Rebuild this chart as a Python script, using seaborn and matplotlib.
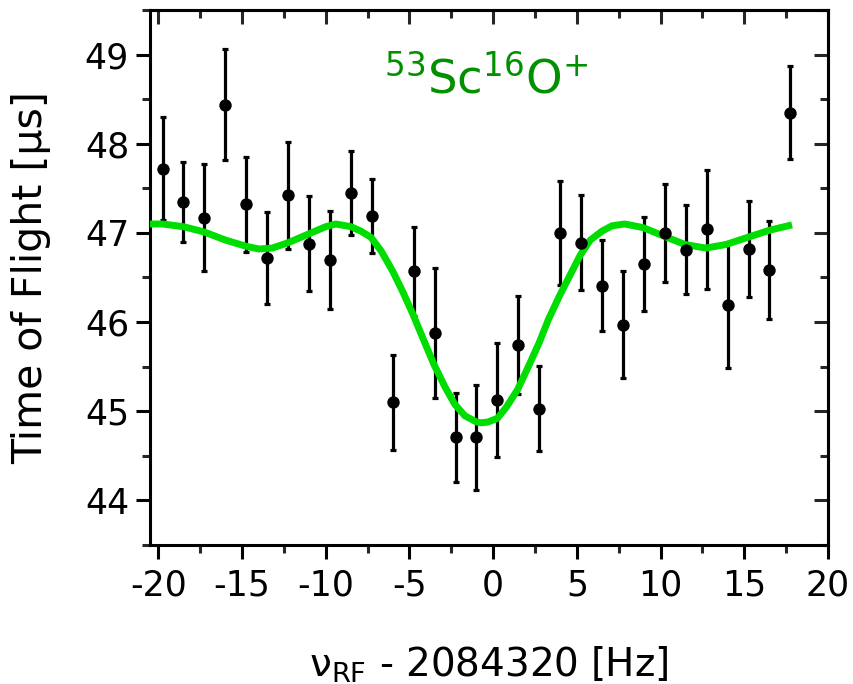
import numpy as np
import pandas as pd
import matplotlib
matplotlib.use("Agg")
import matplotlib.pyplot as plt
import seaborn as sns
from matplotlib.ticker import MultipleLocator

# ---- data ----
freq = [-19.75, -18.5, -17.25, -16.0, -14.75, -13.5, -12.25, -11.0, -9.75, -8.5,
        -7.25, -6.0, -4.75, -3.5, -2.25, -1.0, 0.25, 1.5, 2.75, 4.0,
        5.25, 6.5, 7.75, 9.0, 10.25, 11.5, 12.75, 14.0, 15.25, 16.5, 17.75]
tof = [47.72, 47.35, 47.17, 48.44, 47.32, 46.72, 47.42, 46.88, 46.70, 47.45,
       47.19, 45.10, 46.57, 45.88, 44.71, 44.71, 45.13, 45.74, 45.03, 47.00,
       46.89, 46.41, 45.97, 46.65, 47.00, 46.81, 47.04, 46.19, 46.82, 46.58, 48.35]
tof_err = [0.58, 0.45, 0.60, 0.62, 0.53, 0.52, 0.60, 0.53, 0.55, 0.47,
           0.42, 0.53, 0.50, 0.73, 0.50, 0.59, 0.64, 0.55, 0.48, 0.58,
           0.53, 0.51, 0.60, 0.53, 0.55, 0.50, 0.67, 0.70, 0.54, 0.55, 0.52]

# fitted curve
fit_freq = [-20.5, -19.75, -18.5, -17.25, -16.0, -14.75, -14.0, -13.2, -12.25, -11.0,
            -10.0, -9.4, -8.5, -7.9, -7.3, -6.7, -6.0, -5.4, -4.8, -4.2,
            -3.55, -2.9, -2.3, -1.7, -1.0, -0.7, -0.3, 0.25, 0.8, 1.45,
            2.1, 2.75, 3.3, 3.95, 4.6, 5.2, 5.8, 6.5, 7.1, 7.85,
            8.95, 10.25, 11.45, 12.7, 13.9, 15.2, 16.5, 17.85]
fit_tof = [47.10, 47.10, 47.07, 47.01, 46.92, 46.85, 46.82, 46.83, 46.89, 46.99,
           47.07, 47.10, 47.07, 47.02, 46.95, 46.80, 46.57, 46.34, 46.09, 45.82,
           45.53, 45.28, 45.08, 44.95, 44.88, 44.87, 44.88, 44.92, 45.05, 45.24,
           45.50, 45.77, 46.03, 46.29, 46.53, 46.75, 46.92, 47.02, 47.08, 47.10,
           47.06, 46.96, 46.87, 46.83, 46.87, 46.95, 47.03, 47.09]

xticks = [-20, -15, -10, -5, 0, 5, 10, 15, 20]
yticks = [44, 45, 46, 47, 48, 49]

sns.set_theme(style="white")
plt.rcParams['font.family'] = ['DejaVu Sans']
plt.rcParams['mathtext.fontset'] = 'dejavusans'

fig = plt.figure(figsize=(8.54, 6.84), dpi=100)
ax = fig.add_axes([0.1756, 0.2032, 0.9696 - 0.1756, 0.9854 - 0.2032])

df = pd.DataFrame({"f": freq, "t": tof, "e": tof_err})
fit = pd.DataFrame({"f": fit_freq, "t": fit_tof})

ax.errorbar(df["f"], df["t"], yerr=df["e"], fmt="none", ecolor="black",
            elinewidth=2.3, capsize=2.3, capthick=2.3, zorder=2)
sns.lineplot(data=fit, x="f", y="t", ax=ax, color="#00dd00", linewidth=5.0,
             sort=False, zorder=3, solid_joinstyle="round", solid_capstyle="butt")
sns.scatterplot(data=df, x="f", y="t", ax=ax, color="black", s=80,
                edgecolor="black", linewidth=0, zorder=4)

ax.set_xlim(-20.5, 20)
ax.set_ylim(43.5, 49.5)
ax.set_xticks(xticks)
ax.set_yticks(yticks)
ax.set_xticklabels([str(v) for v in xticks])
ax.set_yticklabels([str(v) for v in yticks])
ax.xaxis.set_minor_locator(MultipleLocator(2.5))
ax.yaxis.set_minor_locator(MultipleLocator(0.5))

for s in ax.spines.values():
    s.set_linewidth(2.2)
    s.set_color("black")
    s.set_visible(True)

ax.tick_params(which="major", direction="out", length=10, width=2.2,
               labelsize=25, color="black", labelcolor="black", pad=5,
               bottom=True, left=True, top=False, right=False)
ax.tick_params(axis="x", which="major", pad=7)
ax.tick_params(which="minor", direction="out", length=5.5, width=2.2,
               bottom=True, left=True, top=False, right=False)

secx = ax.secondary_xaxis("top")
secx.set_xticks(xticks)
secx.xaxis.set_minor_locator(MultipleLocator(2.5))
secx.tick_params(which="major", direction="in", length=10, width=2.2, labeltop=False)
secx.tick_params(which="minor", direction="in", length=5.5, width=2.2)
secx.spines["top"].set_linewidth(2.2)

secy = ax.secondary_yaxis("right")
secy.set_yticks(yticks)
secy.yaxis.set_minor_locator(MultipleLocator(0.5))
secy.tick_params(which="major", direction="in", length=10, width=2.2, labelright=False)
secy.tick_params(which="minor", direction="in", length=5.5, width=2.2)
secy.spines["right"].set_linewidth(2.2)

ax.set_xlabel(r"ν$_{\mathrm{RF}}$ - 2084320 [Hz]", fontsize=28, labelpad=30,
              color="black")
ax.set_ylabel("Time of Flight [µs]", fontsize=29.5, labelpad=24, color="black")

ax.text(-0.4, 48.72, r"$^{53}$Sc$^{16}$O$^{+}$", color="#009000", fontsize=33.5,
        ha="center", va="center")

fig.savefig("out.png", dpi=100)
